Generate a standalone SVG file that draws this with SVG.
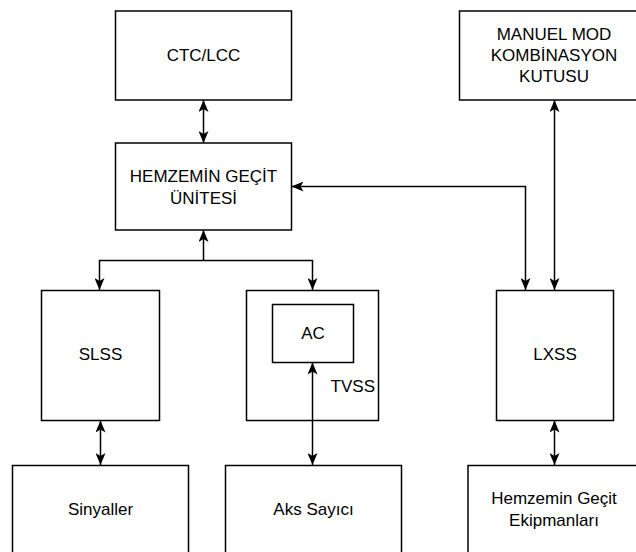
<svg xmlns="http://www.w3.org/2000/svg" width="636" height="552" viewBox="0 0 636 552">
<style>
.box{fill:#fff;stroke:#000;stroke-width:1.5}
.t{font-family:"Liberation Sans",Arial,sans-serif;font-size:17px;fill:#000;text-anchor:middle}
.c{fill:none;stroke:#000;stroke-width:1.5}
</style>
<defs>
<marker id="a" markerUnits="userSpaceOnUse" markerWidth="12" markerHeight="10" viewBox="0 0 12 10" refX="12" refY="5" orient="auto-start-reverse">
<path d="M12,5 L0,0 L3,5 L0,10 Z" fill="#000"/>
</marker>
</defs>
<rect width="636" height="552" fill="#fff"/>
<g id="ctc"><rect class="box" x="115.5" y="11" width="176" height="89"/><text class="t" x="203.5" y="61">CTC/LCC</text></g>
<g id="hgu"><rect class="box" x="115.5" y="143" width="176" height="87"/><text class="t" x="203.5" y="182">HEMZEMİN GEÇİT</text><text class="t" x="203.5" y="204">ÜNİTESİ</text></g>
<g id="manuel"><rect class="box" x="459.5" y="11" width="190" height="89"/><text class="t" x="554" y="40">MANUEL MOD</text><text class="t" x="554" y="61">KOMBİNASYON</text><text class="t" x="554" y="82">KUTUSU</text></g>
<g id="slss"><rect class="box" x="41.5" y="290.5" width="118" height="130"/><text class="t" x="100.5" y="360">SLSS</text></g>
<g id="tvss"><rect class="box" x="246.5" y="290.5" width="132" height="130"/><text class="t" x="375" y="392" style="text-anchor:end">TVSS</text></g>
<g id="ac"><rect class="box" x="272.5" y="304.5" width="81" height="58"/><text class="t" x="313" y="339">AC</text></g>
<g id="lxss"><rect class="box" x="496.5" y="290.5" width="117" height="130"/><text class="t" x="555" y="360">LXSS</text></g>
<g id="sinyaller"><rect class="box" x="12.5" y="465.5" width="176" height="88"/><text class="t" x="100.5" y="515">Sinyaller</text></g>
<g id="aks"><rect class="box" x="225.5" y="465.5" width="176" height="88"/><text class="t" x="313.5" y="515">Aks Sayıcı</text></g>
<g id="ekipman"><rect class="box" x="468" y="465.5" width="172" height="88"/><text class="t" x="554" y="504">Hemzemin Geçit</text><text class="t" x="554" y="526">Ekipmanları</text></g>
<g id="connectors">
<path class="c" d="M203.5,100 V143" marker-start="url(#a)" marker-end="url(#a)"/>
<path class="c" d="M99.5,290 V260.5 H312.5 V290" marker-start="url(#a)" marker-end="url(#a)"/>
<path class="c" d="M203.5,260.5 V230" marker-end="url(#a)"/>
<path class="c" d="M100.5,420.5 V465" marker-start="url(#a)" marker-end="url(#a)"/>
<path class="c" d="M312.5,362.5 V465" marker-start="url(#a)" marker-end="url(#a)"/>
<path class="c" d="M291.5,186.5 H525.5 V290" marker-start="url(#a)" marker-end="url(#a)"/>
<path class="c" d="M554.5,100 V290" marker-start="url(#a)" marker-end="url(#a)"/>
<path class="c" d="M554.5,420.5 V465" marker-start="url(#a)" marker-end="url(#a)"/>
</g>
</svg>
